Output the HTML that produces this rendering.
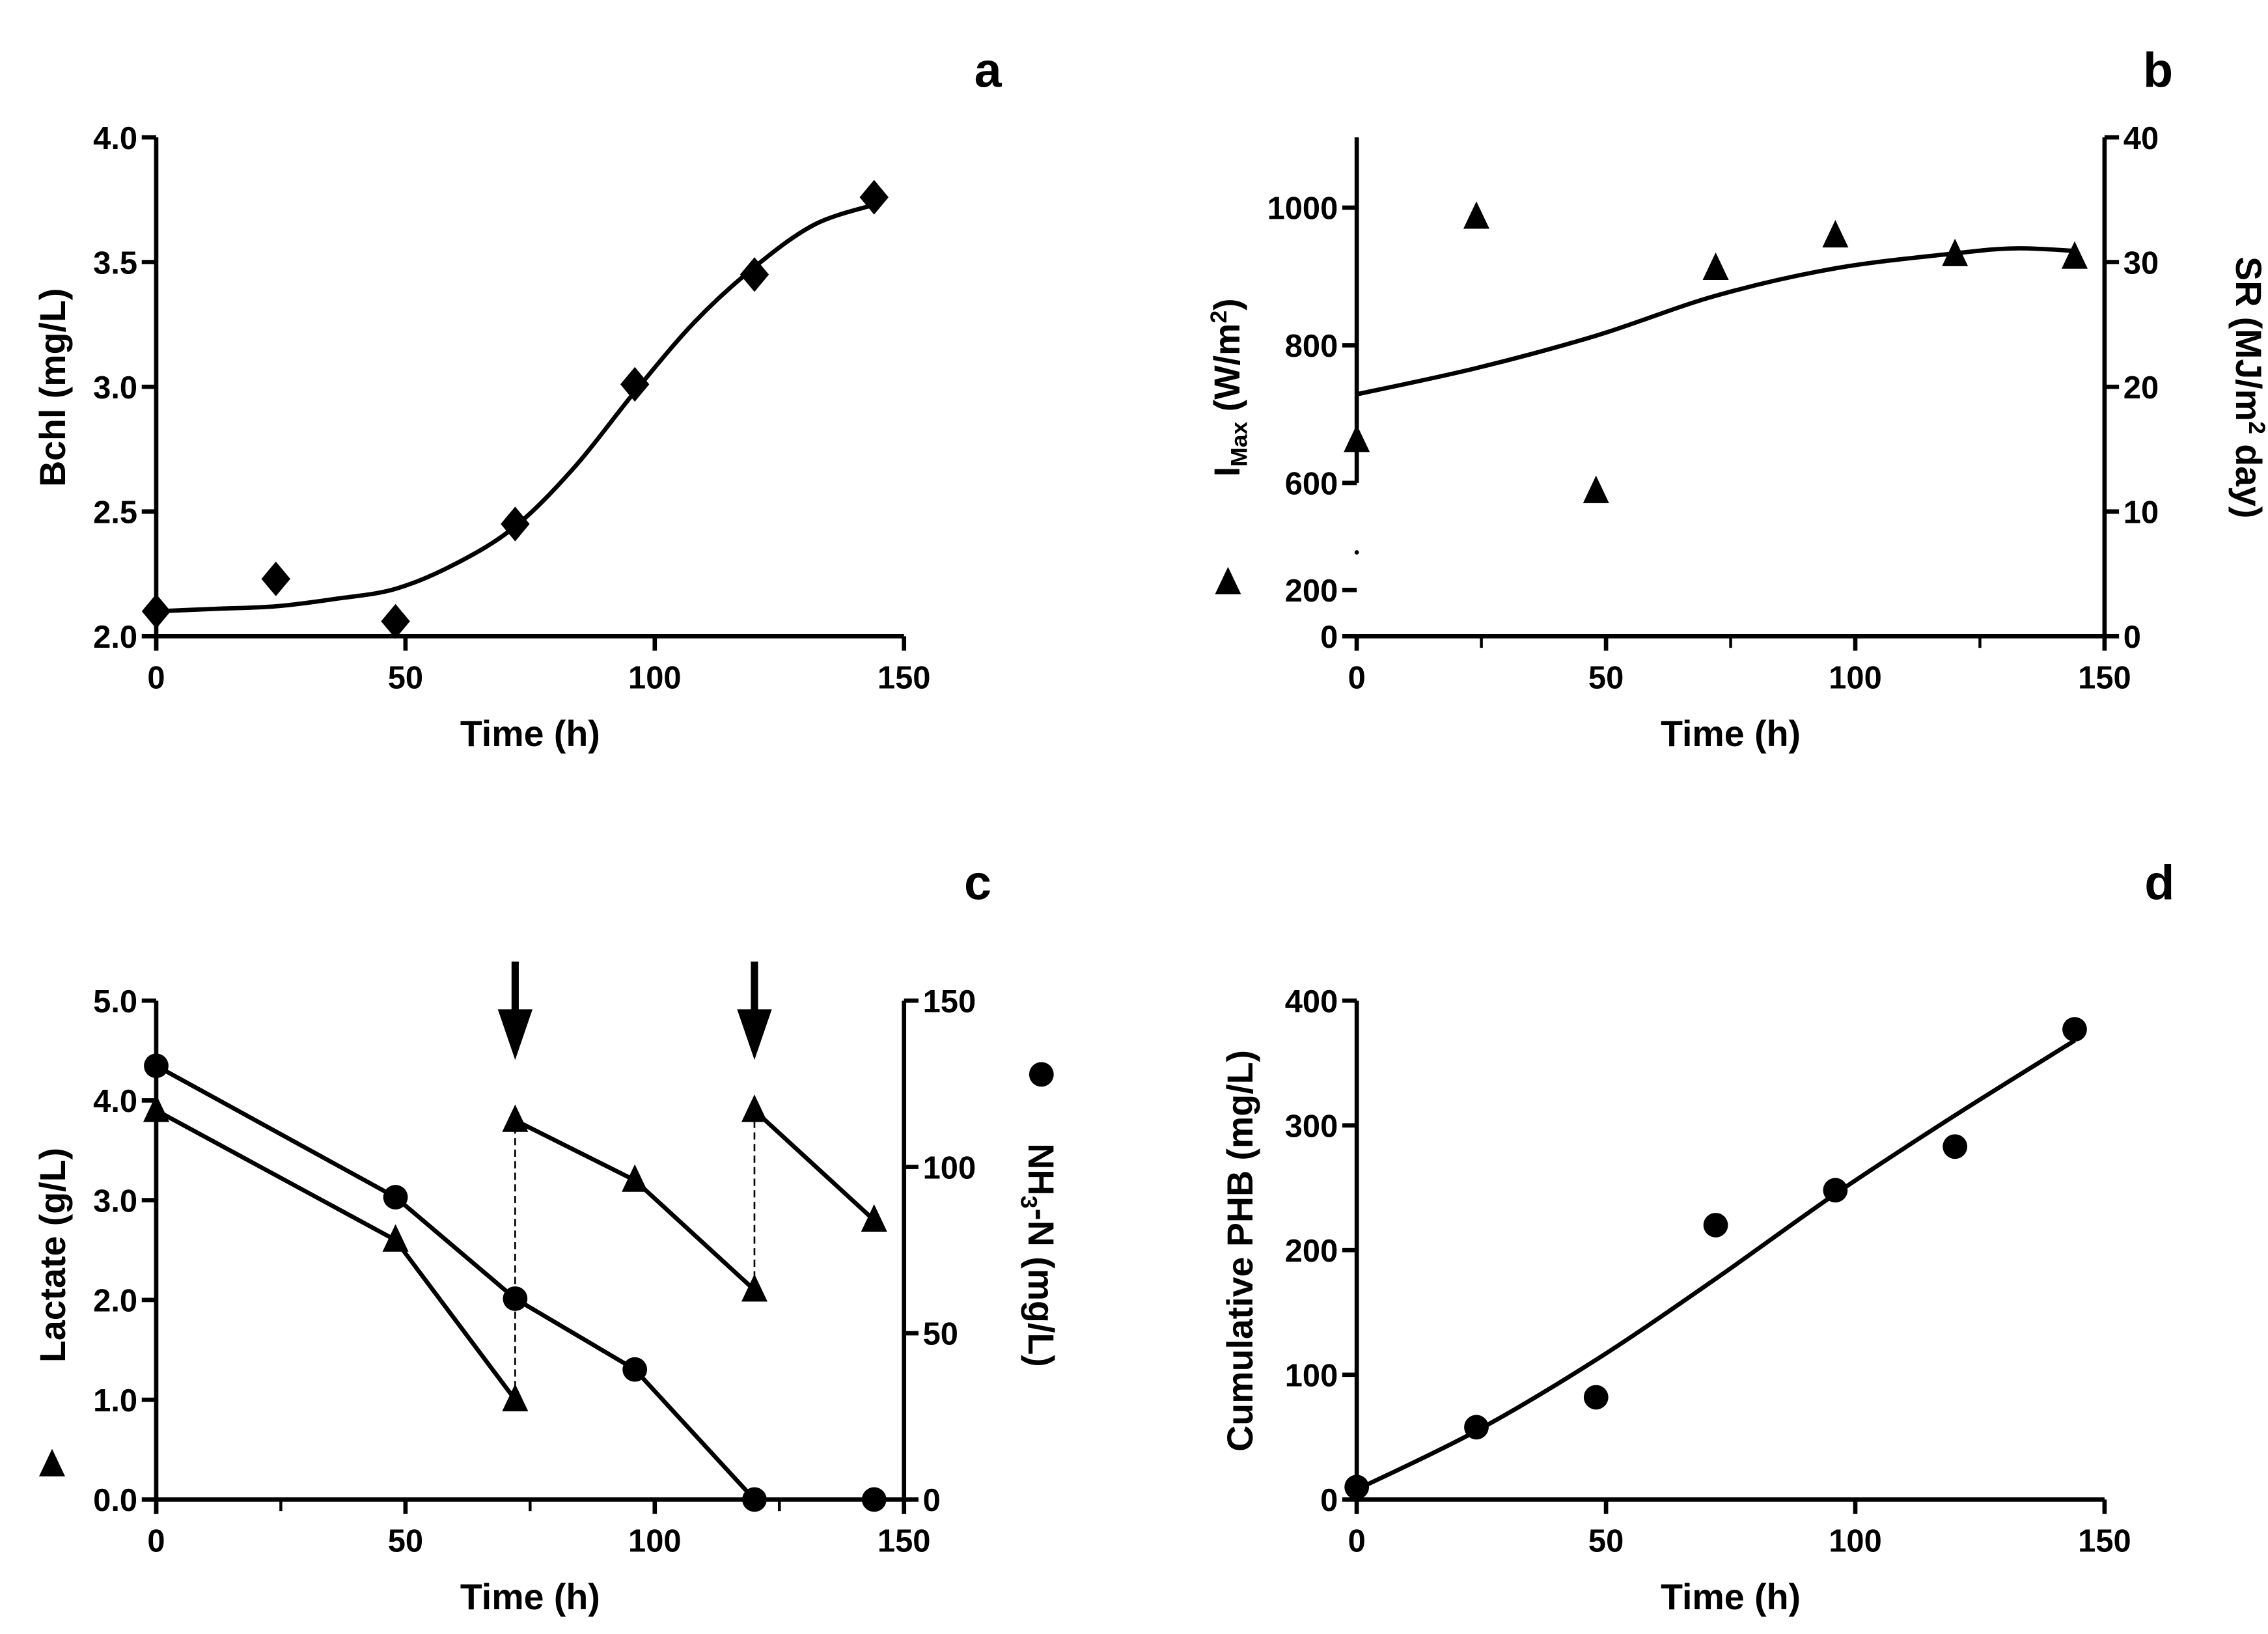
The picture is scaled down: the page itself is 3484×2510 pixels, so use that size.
<!DOCTYPE html>
<html><head><meta charset="utf-8">
<style>
html,body{margin:0;padding:0;background:#fff;}
svg{display:block;}
text{font-family:"Liberation Sans Narrow","Liberation Sans",sans-serif;font-weight:bold;fill:#000;}
</style></head>
<body>
<svg id="fig" width="3484" height="2510" viewBox="0 0 1568 1130" preserveAspectRatio="none" xmlns="http://www.w3.org/2000/svg">
<rect width="1568" height="1130" fill="#fff"/>
</svg>
<script>
// Panel a data
const aTimes = [0, 24, 48, 72, 96, 120, 144];
const aBchl = [2.10, 2.23, 2.06, 2.45, 3.01, 3.45, 3.76];
const aFitT = [0, 12, 24, 36, 48, 60, 72, 84, 96, 108, 120, 132, 144];
const aFitV = [2.10, 2.11, 2.12, 2.15, 2.19, 2.29, 2.44, 2.68, 2.98, 3.26, 3.48, 3.65, 3.73];
const aYTicks = [2.0, 2.5, 3.0, 3.5, 4.0];
const aYLabels = ["2.0", "2.5", "3.0", "3.5", "4.0"];
// Panel b data
const bTimes = [0, 24, 48, 72, 96, 120, 144];
const bSR = [15.7, 33.6, 11.6, 29.5, 32.1, 30.6, 30.4];
const bFitT = [0, 24, 48, 72, 96, 120, 132, 144];
const bFitV = [19.4, 21.5, 24.1, 27.3, 29.5, 30.7, 31.1, 30.9];
const bLeftUpperTicks = [600, 800, 1000];
const bLeftLowerTicks = [0, 200];
const bRightTicks = [0, 10, 20, 30, 40];
// Panel c data
const cLacT = [[0, 48, 72], [72, 96, 120], [120, 144]];
const cLacV = [[3.9, 2.6, 1.0], [3.8, 3.2, 2.1], [3.9, 2.8]];
const cNhT = [0, 48, 72, 96, 120, 144];
const cNhV = [130.4, 90.9, 60.4, 39.1, 0, 0];
const cArrowT = [72, 120];
const cLeftTicks = [0, 1, 2, 3, 4, 5];
const cLeftLabels = ["0.0", "1.0", "2.0", "3.0", "4.0", "5.0"];
const cRightTicks = [0, 50, 100, 150];
// Panel d data
const dTimes = [0, 24, 48, 72, 96, 120, 144];
const dPHB = [10, 58, 82, 220, 248, 283, 377];
const dFitT = [0, 24, 48, 72, 96, 120, 144];
const dFitV = [8, 55, 112, 177, 245, 308, 368];
const dYTicks = [0, 100, 200, 300, 400];
const xTicks = [0, 50, 100, 150];

const TF = 22, TT = 25;
const svg = document.getElementById('fig');
const NS = 'http://www.w3.org/2000/svg';
function mk(tag, attrs, parent) {
  const e = document.createElementNS(NS, tag);
  for (const k in attrs) e.setAttribute(k, attrs[k]);
  (parent || svg).appendChild(e);
  return e;
}
function lin(d0, d1, r0, r1) { return v => r0 + (v - d0) * (r1 - r0) / (d1 - d0); }
function line(x1, y1, x2, y2, w, name, dash) {
  const e = mk('line', {x1, y1, x2, y2, stroke: '#000', 'stroke-width': w || 3});
  if (dash) e.setAttribute('stroke-dasharray', dash);
  
  
  return e;
}
function txt(x, y, s, size, anchor, name, rot) {
  const e = mk('text', {x, y, 'font-size': size, 'text-anchor': anchor || 'middle'});
  if (rot) e.setAttribute('transform', `rotate(${rot} ${x} ${y})`);
  e.textContent = s;
  
  
  return e;
}
function diamond(x, y, name) {
  const e = mk('polygon', {points: `${x},${y-12} ${x+10},${y} ${x},${y+12} ${x-10},${y}`, fill: '#000'});
  
  
}
function tri(x, y, name) {
  const e = mk('polygon', {points: `${x},${y-11} ${x+9},${y+8} ${x-9},${y+8}`, fill: '#000'});
  
  
}
function circ(x, y, name) {
  const e = mk('circle', {cx: x, cy: y, r: 8.5, fill: '#000'});
  
  
}
function smoothPath(xs, ys, name) {
  let d = `M${xs[0]},${ys[0]}`;
  for (let i = 0; i < xs.length - 1; i++) {
    const x0 = xs[Math.max(i-1,0)], y0 = ys[Math.max(i-1,0)];
    const x3 = xs[Math.min(i+2,xs.length-1)], y3 = ys[Math.min(i+2,xs.length-1)];
    const c1x = xs[i] + (xs[i+1]-x0)/6, c1y = ys[i] + (ys[i+1]-y0)/6;
    const c2x = xs[i+1] - (x3-xs[i])/6, c2y = ys[i+1] - (y3-ys[i])/6;
    d += ` C${c1x},${c1y} ${c2x},${c2y} ${xs[i+1]},${ys[i+1]}`;
  }
  const e = mk('path', {d, fill: 'none', stroke: '#000', 'stroke-width': 3});
  
  
}
function polyl(pts, name) {
  const e = mk('polyline', {points: pts.map(p => p.join(',')).join(' '), fill: 'none', stroke: '#000', 'stroke-width': 3});
  
  
}
function xAxis(x0, x1, y, minor, pfx) {
  const sx = lin(0, 150, x0, x1);
  line(x0, y, x1, y, 3, pfx + '-x-axis');
  xTicks.forEach(t => { line(sx(t), y, sx(t), y + 10, 3, pfx + '-x-tick'); txt(sx(t), y + 36, String(t), TF, 'middle', pfx + '-x-tick-label'); });
  if (minor) [25, 75, 125].forEach(t => line(sx(t), y, sx(t), y + 8, 2, pfx + '-x-minor-tick'));
  txt((x0 + x1) / 2, y + 76, 'Time (h)', TT, 'middle', pfx + '-x-axis-title');
  return sx;
}

// ===== Panel a =====
{
  const sx = xAxis(108, 625, 440, false, 'a');
  const sy = lin(2, 4, 440, 95);
  line(108, 95, 108, 450, 3, 'a-y-axis');
  aYTicks.forEach((t, i) => { line(98, sy(t), 108, sy(t), 3, 'a-y-tick'); txt(95, sy(t) + 8, aYLabels[i], TF, 'end', 'a-y-tick-label'); });
  txt(45, 268, 'Bchl (mg/L)', TT, 'middle', 'a-y-axis-title', -90);
  txt(683, 60, 'a', 34, 'middle', 'panel-a-label');
  smoothPath(aFitT.map(sx), aFitV.map(sy), 'a-fit-curve');
  aTimes.forEach((t, i) => diamond(sx(t), sy(aBchl[i]), 'a-point'));
}
// ===== Panel b =====
{
  const sx = xAxis(938, 1455, 440, true, 'b');
  const syU = lin(600, 1000, 334, 143.6);
  const syL = lin(0, 200, 440, 408);
  const syR = lin(0, 40, 440, 95);
  line(938, 95, 938, 334, 3, 'b-left-axis-upper');
  line(938, 440, 938, 450, 3, 'b-left-axis-lower');
  mk('circle', {cx: 938, cy: 382, r: 1.5, fill: '#000'});
  bLeftUpperTicks.forEach(t => { line(928, syU(t), 938, syU(t), 3, 'b-left-tick'); txt(925, syU(t) + 8, String(t), TF, 'end', 'b-left-tick-label'); });
  bLeftLowerTicks.forEach(t => { line(928, syL(t), 938, syL(t), 3, 'b-left-tick'); txt(925, syL(t) + 8, String(t), TF, 'end', 'b-left-tick-label'); });
  line(1455, 95, 1455, 440, 3, 'b-right-axis');
  bRightTicks.forEach(t => { line(1455, syR(t), 1465, syR(t), 3, 'b-right-tick'); txt(1468, syR(t) + 8, String(t), TF, 'start', 'b-right-tick-label'); });
  const yt = mk('text', {x: 857, y: 268, 'font-size': TT, 'text-anchor': 'middle', transform: 'rotate(-90 857 268)'});
  yt.innerHTML = 'I<tspan font-size="16" dy="5">Max</tspan><tspan dy="-5"> (W/m</tspan><tspan font-size="16" dy="-9">2</tspan><tspan dy="9">)</tspan>';
  
  
  tri(849, 403, 'b-legend-triangle');
  const rt = mk('text', {x: 1546, y: 268, 'font-size': TT, 'text-anchor': 'middle', transform: 'rotate(90 1546 268)'});
  rt.innerHTML = 'SR (MJ/m<tspan font-size="16" dy="-9">2</tspan><tspan dy="9"> day)</tspan>';
  
  
  txt(1492, 60, 'b', 34, 'middle', 'panel-b-label');
  smoothPath(bFitT.map(sx), bFitV.map(syR), 'b-fit-curve');
  bTimes.forEach((t, i) => tri(sx(t), syR(bSR[i]), 'b-point'));
}
// ===== Panel c =====
{
  const sx = xAxis(108, 625, 1037, true, 'c');
  const syL = lin(0, 5, 1037, 692);
  const syR = lin(0, 150, 1037, 692);
  line(108, 692, 108, 1047, 3, 'c-left-axis');
  cLeftTicks.forEach((t, i) => { line(98, syL(t), 108, syL(t), 3, 'c-left-tick'); txt(95, syL(t) + 8, cLeftLabels[i], TF, 'end', 'c-left-tick-label'); });
  line(625, 692, 625, 1047, 3, 'c-right-axis');
  cRightTicks.forEach(t => { line(625, syR(t), 635, syR(t), 3, 'c-right-tick'); txt(638, syR(t) + 8, String(t), TF, 'start', 'c-right-tick-label'); });
  txt(45, 868, 'Lactate (g/L)', TT, 'middle', 'c-left-axis-title', -90);
  tri(36, 1013, 'c-legend-triangle');
  const rt = mk('text', {x: 711, y: 868, 'font-size': TT, 'text-anchor': 'middle', transform: 'rotate(90 711 868)'});
  rt.innerHTML = 'NH<tspan font-size="16" dy="5">3</tspan><tspan dy="-5">-N (mg/L)</tspan>';
  
  
  circ(720, 743, 'c-legend-circle');
  txt(676, 622, 'c', 34, 'middle', 'panel-c-label');
  for (let k = 0; k < cLacT.length - 1; k++) {
    const tEnd = cLacT[k][cLacT[k].length - 1];
    line(sx(tEnd), syL(cLacV[k][cLacV[k].length - 1]), sx(tEnd), syL(cLacV[k+1][0]), 1.2, 'c-dashed-link', '5,3');
  }
  cLacT.forEach((seg, k) => {
    polyl(seg.map((t, i) => [sx(t), syL(cLacV[k][i])]), 'c-lactate-line');
    seg.forEach((t, i) => tri(sx(t), syL(cLacV[k][i]), 'c-lactate-point'));
  });
  polyl(cNhT.slice(0, 5).map((t, i) => [sx(t), syR(cNhV[i])]), 'c-nh3-line');
  cNhT.forEach((t, i) => circ(sx(t), syR(cNhV[i]), 'c-nh3-point'));
  cArrowT.forEach(t => {
    const x = sx(t);
    line(x, 665, x, 700, 5, 'c-feed-arrow-shaft');
    const e = mk('polygon', {points: `${x-12},698 ${x+12},698 ${x},733`, fill: '#000'});
    
    
  });
}
// ===== Panel d =====
{
  const sx = xAxis(938, 1455, 1037, false, 'd');
  const sy = lin(0, 400, 1037, 692);
  line(938, 692, 938, 1047, 3, 'd-y-axis');
  dYTicks.forEach(t => { line(928, sy(t), 938, sy(t), 3, 'd-y-tick'); txt(925, sy(t) + 8, String(t), TF, 'end', 'd-y-tick-label'); });
  txt(866, 865, 'Cumulative PHB (mg/L)', TT, 'middle', 'd-y-axis-title', -90);
  txt(1493, 622, 'd', 34, 'middle', 'panel-d-label');
  smoothPath(dFitT.map(sx), dFitV.map(sy), 'd-fit-curve');
  dTimes.forEach((t, i) => circ(sx(t), sy(dPHB[i]), 'd-point'));
}
</script>
</body></html>
